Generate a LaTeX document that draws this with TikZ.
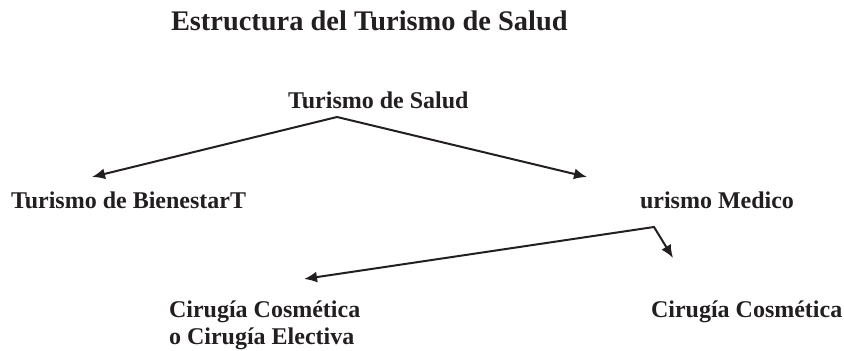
\documentclass[tikz,border=0pt]{standalone}
\usepackage{fontspec}
\setmainfont{Liberation Serif}
\usetikzlibrary{arrows.meta}
\definecolor{ink}{HTML}{231F20}
\tikzset{
  rubro/.style={anchor=base west, inner sep=0pt, font=\fontsize{12}{13.5}\selectfont\bfseries},
  titulo/.style={anchor=base west, inner sep=0pt, font=\fontsize{14.2}{17}\selectfont\bfseries}
}
\begin{document}
\begin{tikzpicture}[>={Latex[length=6.5pt,width=5.5pt]},x=.5pt,y=-.5pt,line width=1pt,ink]
\useasboundingbox (0,0) rectangle (844,351);
\node[titulo] (tit) at (170,31) {Estructura del Turismo de Salud};

\node[rubro] (salud) at (287,109) {Turismo de Salud};
\node[rubro] (bienestar) at (10,209) {Turismo de BienestarT};
\node[rubro] (medico) at (639,209) {urismo Medico};
\node[rubro,align=left] (electiva) at (168,345) {Cirugía Cosmética\\o Cirugía Electiva};
\node[rubro] (cosmetica) at (650,318) {Cirugía Cosmética};

\coordinate (vsalud) at (337,117);
\coordinate (fbienestar) at (92,177);
\coordinate (fmedico) at (587,177);
\coordinate (vmedico) at (654,227);
\coordinate (felectiva) at (304,279);
\coordinate (fcosmetica) at (673,258);

\draw[<->] (fbienestar) -- (vsalud) -- (fmedico);
\draw[<->] (felectiva) -- (vmedico) -- (fcosmetica);

\end{tikzpicture}
\end{document}
